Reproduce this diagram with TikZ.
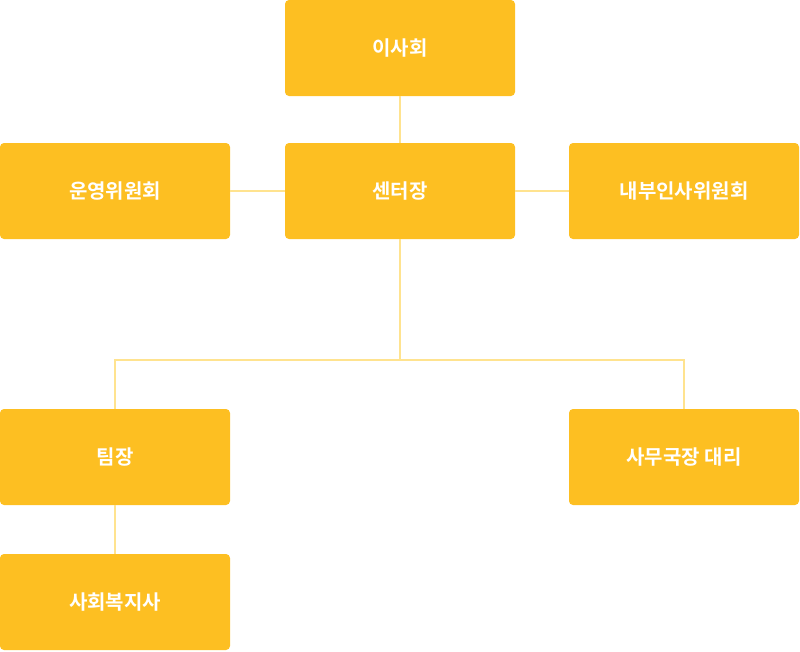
\documentclass[tikz,border=0pt]{standalone}
\usepackage{fontspec}
\newfontfamily\kr{Noto Sans CJK KR}[BoldFont={* Bold}]
\usetikzlibrary{positioning}
\definecolor{boxyellow}{HTML}{FDBF22}
\definecolor{lineyellow}{HTML}{FFE38F}
\begin{document}
\begin{tikzpicture}[x=1pt,y=-1pt]
  \tikzset{org/.style={fill=boxyellow, rounded corners=4pt, minimum width=230pt, minimum height=96pt, text=white, font=\kr\bfseries\fontsize{20}{24}\selectfont},
    link/.style={draw=lineyellow, line width=1.5pt}}
  \useasboundingbox (0,0) rectangle (800,651);
  % boxes
  \node[org] (board) at (400,48) {이사회};
  \node[org] (head) at (400,191) {센터장};
  \node[org] (ops) at (115,191) {운영위원회};
  \node[org] (hr) at (684,191) {내부인사위원회};
  \node[org] (lead) at (115,457) {팀장};
  \node[org] (office) at (684,457) {사무국장 대리};
  \node[org] (worker) at (115,602) {사회복지사};
  % connectors
  \coordinate (fork) at (400,360);
  \draw[link] (board) -- (head);
  \draw[link] (ops) -- (head);
  \draw[link] (head) -- (hr);
  \draw[link] (head) -- (fork);
  \draw[link] (fork) -| (lead);
  \draw[link] (fork) -| (office);
  \draw[link] (lead) -- (worker);
\end{tikzpicture}
\end{document}
